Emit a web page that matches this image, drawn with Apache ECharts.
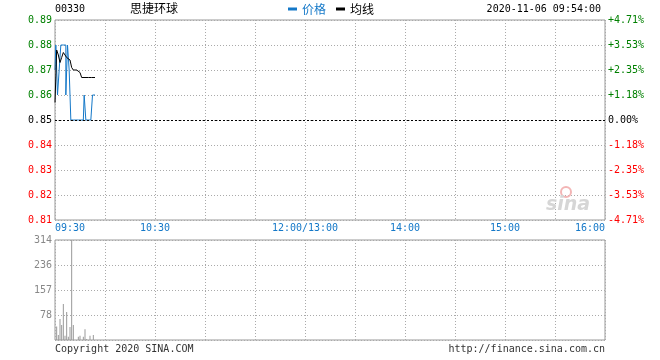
<!DOCTYPE html>
<html><head><meta charset="utf-8">
<script src="https://cdn.jsdelivr.net/npm/echarts@6/dist/echarts.min.js"></script>
<style>html,body{margin:0;padding:0;background:#fff}#c{width:660px;height:360px}</style>
</head><body><div id="c"></div>
<script>
const stockCode = '00330';
const stockName = '思捷环球';
const timestamp = '2020-11-06 09:54:00';
const prevClose = 0.85;
const priceMin = 0.81, priceMax = 0.89, priceStep = 0.01;
// one value per minute from 09:30
const priceValues = [0.87,0.88,0.86,0.87,0.88,0.88,0.88,0.86,0.88,0.87,0.85,0.85,0.85,0.85,0.85,0.85,0.85,0.85,0.86,0.85,0.85,0.85,0.85,0.86,0.86];
const avgValues = [0.857,0.878,0.876,0.873,0.875,0.877,0.876,0.875,0.875,0.874,0.871,0.870,0.870,0.870,0.870,0.869,0.867,0.867,0.867,0.867,0.867,0.867,0.867,0.867,0.867];
const volumeValues = [0,42,16,66,47,113,13,88,10,41,314,47,0,0,10,13,0,10,34,3,0,13,0,16,0];
const sessionMinutes = 330;
const timeTickMinutes = [0,60,150,210,270,330];
const timeTickLabels = ['09:30','10:30','12:00/13:00','14:00','15:00','16:00'];
const volumeMax = 314;
const volumeTickLabels = ['78','157','236','314'];

const MONO = 'DejaVu Sans Mono';
const CJK = 'Noto Sans CJK SC';
const GREEN = '#008000', RED = '#ff0000', BLUE = '#1478c8';
const dotted = {color:'#aaa', type:[1,2], width:1};

function priceColor(v){
  v = +v;
  if (v > prevClose + 1e-9) return GREEN;
  if (v < prevClose - 1e-9) return RED;
  return '#000';
}

const chart = echarts.init(document.getElementById('c'), null, {renderer:'canvas'});
chart.setOption({
  animation:false,
  backgroundColor:'#fff',
  legend:{
    top:-2, left:283, itemWidth:9, itemHeight:3, icon:'rect', itemGap:10,
    textStyle:{fontFamily:CJK, fontSize:12},
    data:[{name:'价格', textStyle:{color:BLUE}},{name:'均线', textStyle:{color:'#000'}}]
  },
  grid:[
    {left:55, top:20, width:550, height:200, show:true, borderColor:'#999', borderWidth:1},
    {left:55, top:240, width:550, height:100, show:true, borderColor:'#999', borderWidth:1}
  ],
  xAxis:[
    {gridIndex:0, type:'value', min:0, max:sessionMinutes, interval:30,
     axisLine:{show:false}, axisTick:{show:false},
     splitLine:{show:true, lineStyle:dotted},
     axisLabel:{show:true, margin:3, color:BLUE, fontFamily:MONO, fontSize:10,
       alignMinLabel:'left', alignMaxLabel:'right',
       formatter:function(v){const i=timeTickMinutes.indexOf(Math.round(v));return i>=0?timeTickLabels[i]:'';}}},
    {gridIndex:1, type:'value', min:0, max:sessionMinutes, interval:30,
     axisLine:{show:false}, axisTick:{show:false}, axisLabel:{show:false},
     splitLine:{show:true, lineStyle:dotted}}
  ],
  yAxis:[
    {gridIndex:0, type:'value', min:priceMin, max:priceMax, interval:priceStep,
     axisLine:{show:false}, axisTick:{show:false},
     splitLine:{show:true, lineStyle:dotted},
     axisLabel:{margin:3, fontFamily:MONO, fontSize:10, color:priceColor,
       formatter:function(v){return (+v).toFixed(2);}}},
    {gridIndex:0, type:'value', position:'right', min:priceMin, max:priceMax, interval:priceStep,
     axisLine:{show:false}, axisTick:{show:false}, splitLine:{show:false},
     axisLabel:{margin:3, fontFamily:MONO, fontSize:10, color:priceColor,
       formatter:function(v){
         const p=(v-prevClose)/prevClose*100;
         if (Math.abs(p)<1e-6) return '0.00%';
         return (p>0?'+':'')+p.toFixed(2)+'%';
       }}},
    {gridIndex:1, type:'value', min:0, max:volumeMax, interval:volumeMax/4,
     axisLine:{show:false}, axisTick:{show:false},
     splitLine:{show:true, lineStyle:dotted},
     axisLabel:{margin:3, fontFamily:MONO, fontSize:10, color:'#888', showMinLabel:false,
       formatter:function(v){const i=Math.round(v/(volumeMax/4));return i>0?volumeTickLabels[i-1]:'';}}}
  ],
  series:[
    {name:'价格', type:'line', step:'middle', xAxisIndex:0, yAxisIndex:0, showSymbol:false, color:BLUE,
     lineStyle:{width:1, color:BLUE},
     data:priceValues.map((v,i)=>[i,v]),
     markLine:{silent:true, symbol:'none', label:{show:false},
       lineStyle:{color:'#000', type:[2,2], width:1},
       data:[{yAxis:prevClose}]}},
    {name:'均线', type:'line', xAxisIndex:0, yAxisIndex:0, showSymbol:false, color:'#000',
     lineStyle:{width:1, color:'#000'},
     data:avgValues.map((v,i)=>[i,v])},
    {name:'成交量', type:'bar', xAxisIndex:1, yAxisIndex:2, barWidth:1, color:'#999',
     data:volumeValues.map((v,i)=>[i,v])}
  ],
  graphic:[
    {type:'text', left:55, top:4, style:{text:stockCode, font:'10px "'+MONO+'"', fill:'#000'}},
    {type:'text', left:130, top:2, style:{text:stockName, font:'12px "'+CJK+'"', fill:'#000'}},
    {type:'text', right:59, top:4, style:{text:timestamp, font:'10px "'+MONO+'"', fill:'#000'}},
    {type:'text', left:55, top:344, style:{text:'Copyright 2020 SINA.COM', font:'10px "'+MONO+'"', fill:'#333'}},
    {type:'text', right:55, top:344, style:{text:'http://finance.sina.com.cn', font:'10px "'+MONO+'"', fill:'#333'}},
    {type:'circle', shape:{cx:566, cy:192, r:5}, style:{fill:'none', stroke:'#f3b5b5', lineWidth:2}, z:1},
    {type:'text', left:546, top:196, style:{text:'sina', font:'italic bold 19px "DejaVu Sans"', fill:'#d6d6d6'}, z:1}
  ]
});
</script></body></html>
